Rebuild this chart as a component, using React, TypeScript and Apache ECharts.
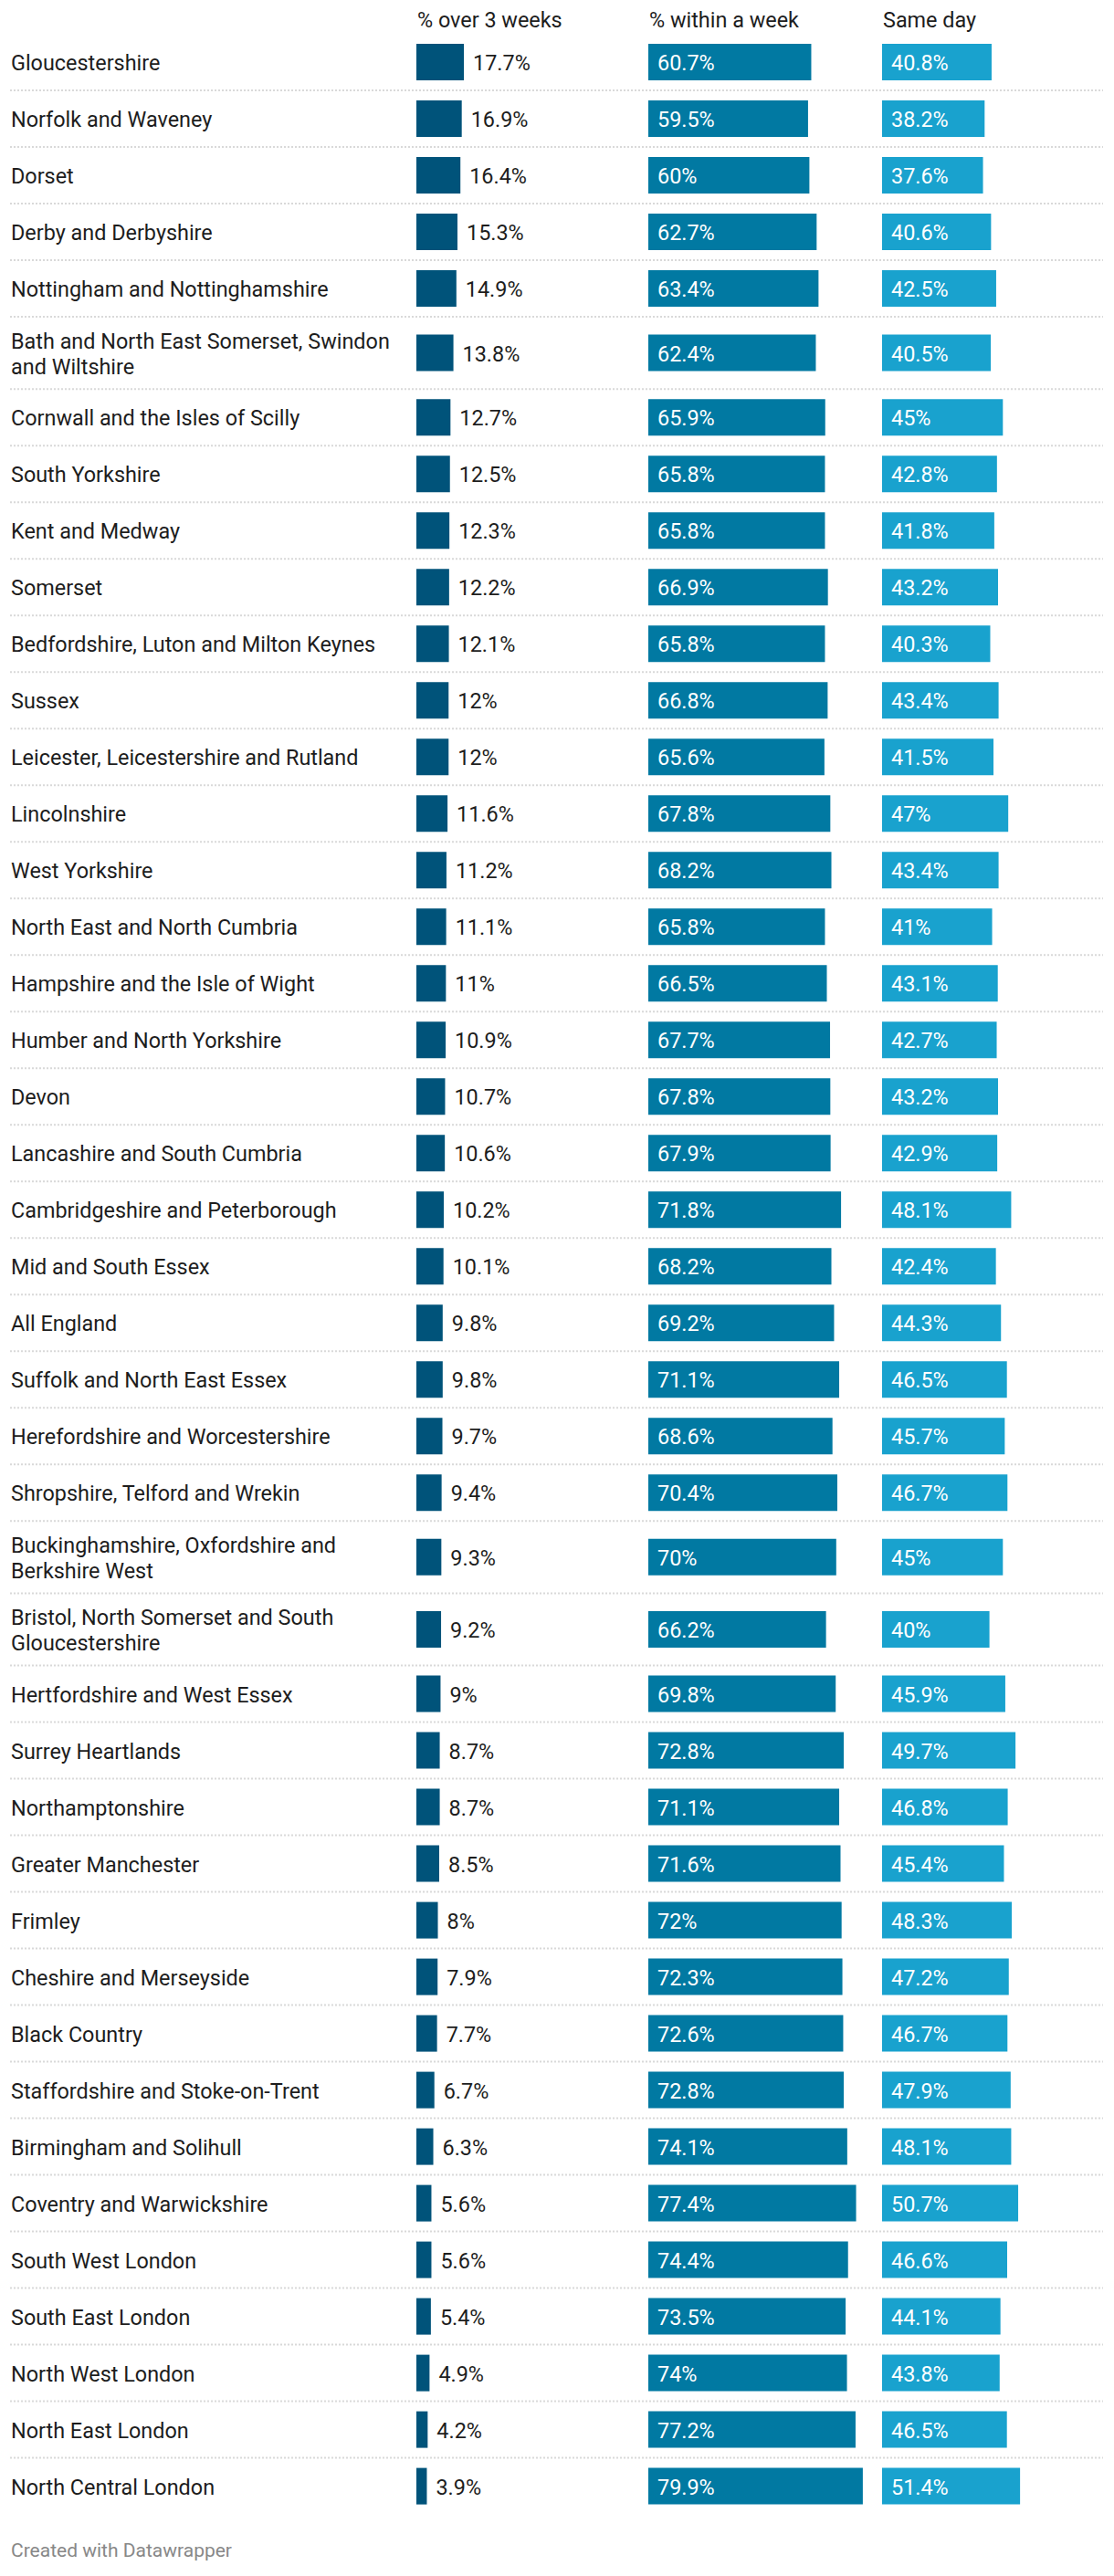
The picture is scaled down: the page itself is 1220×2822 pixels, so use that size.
import React, { useEffect, useRef } from "react";
import * as echarts from "echarts";

const categories: string[] = [
  "Gloucestershire",
  "Norfolk and Waveney",
  "Dorset",
  "Derby and Derbyshire",
  "Nottingham and Nottinghamshire",
  "Bath and North East Somerset, Swindon\nand Wiltshire",
  "Cornwall and the Isles of Scilly",
  "South Yorkshire",
  "Kent and Medway",
  "Somerset",
  "Bedfordshire, Luton and Milton Keynes",
  "Sussex",
  "Leicester, Leicestershire and Rutland",
  "Lincolnshire",
  "West Yorkshire",
  "North East and North Cumbria",
  "Hampshire and the Isle of Wight",
  "Humber and North Yorkshire",
  "Devon",
  "Lancashire and South Cumbria",
  "Cambridgeshire and Peterborough",
  "Mid and South Essex",
  "All England",
  "Suffolk and North East Essex",
  "Herefordshire and Worcestershire",
  "Shropshire, Telford and Wrekin",
  "Buckinghamshire, Oxfordshire and\nBerkshire West",
  "Bristol, North Somerset and South\nGloucestershire",
  "Hertfordshire and West Essex",
  "Surrey Heartlands",
  "Northamptonshire",
  "Greater Manchester",
  "Frimley",
  "Cheshire and Merseyside",
  "Black Country",
  "Staffordshire and Stoke-on-Trent",
  "Birmingham and Solihull",
  "Coventry and Warwickshire",
  "South West London",
  "South East London",
  "North West London",
  "North East London",
  "North Central London",
];

const over3Weeks: number[] = [
  17.7, 16.9, 16.4, 15.3, 14.9, 13.8, 12.7, 12.5, 12.3, 12.2, 12.1, 12, 12, 11.6,
  11.2, 11.1, 11, 10.9, 10.7, 10.6, 10.2, 10.1, 9.8, 9.8, 9.7, 9.4, 9.3, 9.2, 9,
  8.7, 8.7, 8.5, 8, 7.9, 7.7, 6.7, 6.3, 5.6, 5.6, 5.4, 4.9, 4.2, 3.9,
];

const withinWeek: number[] = [
  60.7, 59.5, 60, 62.7, 63.4, 62.4, 65.9, 65.8, 65.8, 66.9, 65.8, 66.8, 65.6, 67.8,
  68.2, 65.8, 66.5, 67.7, 67.8, 67.9, 71.8, 68.2, 69.2, 71.1, 68.6, 70.4, 70, 66.2,
  69.8, 72.8, 71.1, 71.6, 72, 72.3, 72.6, 72.8, 74.1, 77.4, 74.4, 73.5, 74, 77.2,
  79.9,
];

const sameDay: number[] = [
  40.8, 38.2, 37.6, 40.6, 42.5, 40.5, 45, 42.8, 41.8, 43.2, 40.3, 43.4, 41.5, 47,
  43.4, 41, 43.1, 42.7, 43.2, 42.9, 48.1, 42.4, 44.3, 46.5, 45.7, 46.7, 45, 40,
  45.9, 49.7, 46.8, 45.4, 48.3, 47.2, 46.7, 47.9, 48.1, 50.7, 46.6, 44.1, 43.8,
  46.5, 51.4,
];

const headers: string[] = ["% over 3 weeks", "% within a week", "Same day"];
const footerText = "Created with Datawrapper";

// layout
const W = 1220;
const H = 2822;
const TOP = 37;
const ROW_H = 62;
const EXTRA_LINE = 17.2;
const BAR_H = 40;
const COL_LEFT = [456, 710, 966];
const AXIS_MAX = 80;
const PX_PER_UNIT = 2.94;
const COLORS = ["#00537a", "#0179a2", "#19a2ce"];
const FONT = "Roboto, 'Noto Sans', sans-serif";
const FONT_SIZE = 23.4;
const TEXT_COLOR = "#1d1d1d";

const rowHeights = categories.map(
  (c) => ROW_H + EXTRA_LINE * (c.split("\n").length - 1)
);
const rowTops: number[] = [];
{
  let acc = 0;
  rowHeights.forEach((h) => {
    rowTops.push(acc);
    acc += h;
  });
}
const TOTAL = rowHeights.reduce((a, b) => a + b, 0);

export default function App() {
  const ref = useRef<HTMLDivElement>(null);

  useEffect(() => {
    if (!ref.current) return;
    const chart = echarts.init(ref.current, undefined, { renderer: "svg" });
    const gridW = AXIS_MAX * PX_PER_UNIT;

    const grids = COL_LEFT.map((left) => ({
      left,
      top: TOP,
      width: gridW,
      height: TOTAL,
      containLabel: false,
    }));
    const xAxes = COL_LEFT.map((_, i) => ({
      type: "value",
      gridIndex: i,
      min: 0,
      max: AXIS_MAX,
      show: false,
    }));
    const yAxes = COL_LEFT.map((_, i) => ({
      type: "value",
      gridIndex: i,
      min: 0,
      max: TOTAL,
      inverse: true,
      show: false,
    }));

    const barSeries = (values: number[], idx: number, inside: boolean) => ({
      type: "custom",
      xAxisIndex: idx,
      yAxisIndex: idx,
      clip: false,
      silent: true,
      data: values.map((v, i) => [v, rowTops[i] + rowHeights[i] / 2]),
      encode: { x: 0, y: 1 },
      renderItem: (params: any, api: any) => {
        const v = api.value(0);
        const yc = api.value(1);
        const start = api.coord([0, yc]);
        const end = api.coord([v, yc]);
        const h = api.size([0, BAR_H])[1];
        return {
          type: "group",
          children: [
            {
              type: "rect",
              shape: {
                x: start[0],
                y: start[1] - h / 2,
                width: end[0] - start[0],
                height: h,
              },
              style: { fill: COLORS[idx] },
            },
            {
              type: "text",
              x: inside ? start[0] + 10 : end[0] + 10,
              y: start[1] + 1,
              style: {
                text: `${v}%`,
                fill: inside ? "#ffffff" : TEXT_COLOR,
                fontSize: FONT_SIZE,
                fontFamily: FONT,
                align: "left",
                verticalAlign: "middle",
              },
            },
          ],
        };
      },
    });

    const labelSeries = {
      type: "custom",
      xAxisIndex: 0,
      yAxisIndex: 0,
      clip: false,
      silent: true,
      data: categories.map((_, i) => [0, rowTops[i] + rowHeights[i] / 2, i]),
      encode: { x: 0, y: 1 },
      renderItem: (params: any, api: any) => {
        const i = api.value(2);
        const yc = api.value(1);
        const p = api.coord([0, yc]);
        const bottom = api.coord([0, rowTops[i] + rowHeights[i]]);
        const children: any[] = [
          {
            type: "text",
            x: 12,
            y: p[1] + 1,
            style: {
              text: categories[i],
              fill: TEXT_COLOR,
              fontSize: FONT_SIZE,
              lineHeight: 28,
              fontFamily: FONT,
              align: "left",
              verticalAlign: "middle",
            },
          },
        ];
        if (i < categories.length - 1) {
          children.push({
            type: "line",
            shape: { x1: 11, y1: bottom[1], x2: 1208, y2: bottom[1] },
            style: { stroke: "#d9d9d9", lineWidth: 2, lineDash: [2, 2] },
          });
        }
        return { type: "group", children };
      },
    };

    const graphic: any[] = headers.map((t, i) => ({
      type: "text",
      left: COL_LEFT[i] + 1,
      top: 10,
      style: {
        text: t,
        fill: TEXT_COLOR,
        fontSize: FONT_SIZE,
        fontFamily: FONT,
      },
    }));
    graphic.push({
      type: "text",
      left: 12,
      top: 2783,
      style: {
        text: footerText,
        fill: "#888888",
        fontSize: 21,
        fontFamily: FONT,
      },
    });

    chart.setOption({
      animation: false,
      backgroundColor: "#ffffff",
      grid: grids,
      xAxis: xAxes,
      yAxis: yAxes,
      series: [
        labelSeries,
        barSeries(over3Weeks, 0, false),
        barSeries(withinWeek, 1, true),
        barSeries(sameDay, 2, true),
      ],
      graphic,
    });

    return () => chart.dispose();
  }, []);

  return (
    <div
      ref={ref}
      style={{ position: "absolute", left: 0, top: 0, width: W, height: H }}
    />
  );
}
